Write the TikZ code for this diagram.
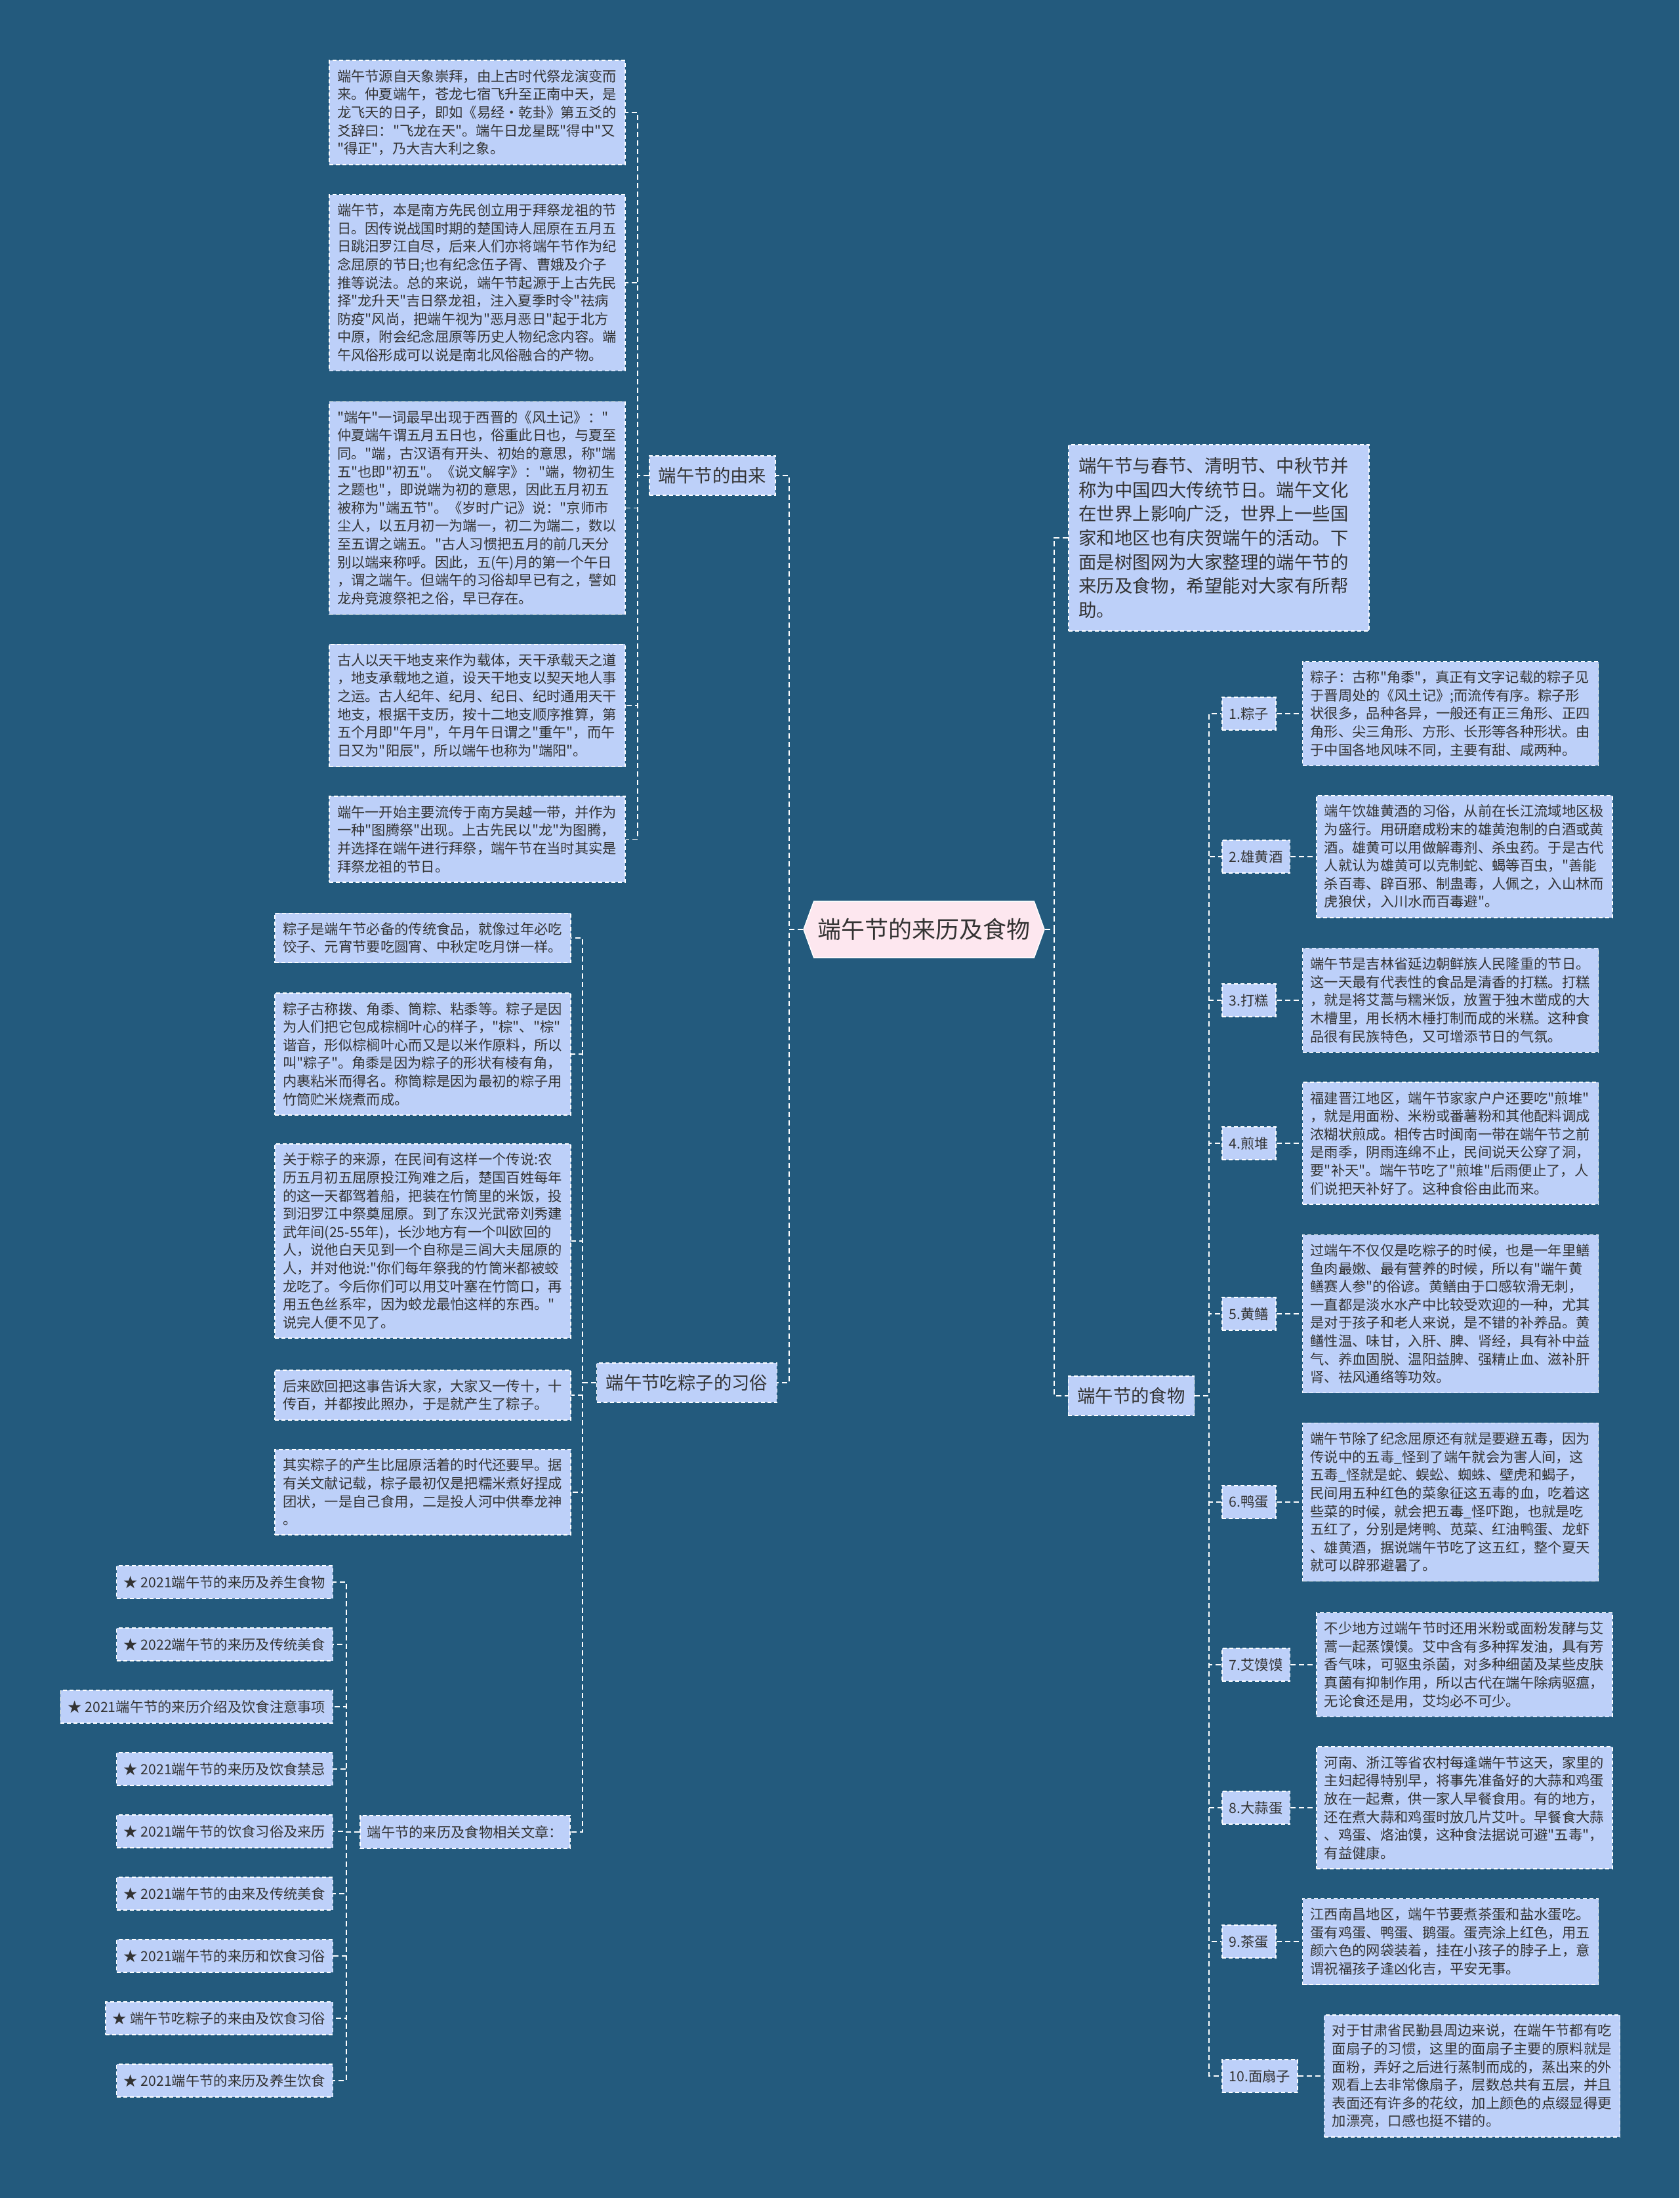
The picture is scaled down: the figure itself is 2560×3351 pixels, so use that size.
\documentclass[tikz,border=0pt]{standalone}
\usepackage{fontspec}
\setmainfont{Noto Sans CJK SC}[Ligatures=TeXOff]
\usetikzlibrary{positioning,shapes.symbols}
\setlength{\parindent}{0pt}

\definecolor{bgblue}{HTML}{235A7D}
\definecolor{boxfill}{HTML}{BDD0F9}
\definecolor{inkgray}{HTML}{333333}
\definecolor{rootpink}{HTML}{FDE7EF}

\tikzset{
  link/.style={draw=white, line width=1.8pt, dash pattern=on 8pt off 5pt},
  boxline/.style={draw=white, line width=1.5pt, dash pattern=on 6pt off 4pt, fill=boxfill, text=inkgray},
  textbox/.style={boxline, align=left, text width=427pt, inner xsep=12pt, inner ysep=14pt,
    font=\fontsize{21.3pt}{27.6pt}\selectfont},
  tagbox/.style={boxline, minimum height=50pt, inner xsep=11pt, inner ysep=4pt,
    font=\fontsize{21.3pt}{25pt}\selectfont},
  branchbox/.style={boxline, minimum height=60pt, inner xsep=14pt, inner ysep=4pt,
    font=\fontsize{27.4pt}{33pt}\selectfont},
  rootbox/.style={shape=signal, signal to=east and west, signal pointer angle=140,
    draw=white, line width=1.5pt, fill=rootpink, text=inkgray,
    minimum width=367pt, minimum height=86pt, font=\fontsize{36pt}{40pt}\selectfont}
}

\begin{document}
\begin{tikzpicture}[x=1pt,y=-1pt]
\fill[bgblue] (0,0) rectangle (2560,3351);
\useasboundingbox (0,0) rectangle (2560,3351);

% centre and main branches
\node[rootbox] (root) at (1408.5,1417) {端午节的来历及食物};
\node[branchbox] (b1) at (1086,725) {端午节的由来};
\node[branchbox] (b2) at (1047,2108) {端午节吃粽子的习俗};
\node[branchbox] (b4) at (1724.5,2128) {端午节的食物};
\node[textbox, text width=427pt, inner xsep=15.5pt, inner ysep=19pt,
  font=\fontsize{27.4pt}{36.7pt}\selectfont] (intro) at (1858,820)
  {端午节与春节、清明节、中秋节并\\称为中国四大传统节日。端午文化\\在世界上影响广泛，世界上一些国\\家和地区也有庆贺端午的活动。下\\面是树图网为大家整理的端午节的\\来历及食物，希望能对大家有所帮\\助。};

\coordinate (busL) at (1203,0);
\coordinate (busR) at (1607,0);
\coordinate (bus1) at (972,0);
\coordinate (bus2) at (888,0);
\coordinate (bus4) at (1843,0);
\coordinate (busA) at (528,0);

% origin texts
\node[textbox] (o1) at (727.5,171.5)
  {端午节源自天象崇拜，由上古时代祭龙演变而\\来。仲夏端午，苍龙七宿飞升至正南中天，是\\龙飞天的日子，即如《易经·乾卦》第五爻的\\爻辞曰："飞龙在天"。端午日龙星既"得中"又\\"得正"，乃大吉大利之象。};
\node[textbox] (o2) at (727.5,431)
  {端午节，本是南方先民创立用于拜祭龙祖的节\\日。因传说战国时期的楚国诗人屈原在五月五\\日跳汨罗江自尽，后来人们亦将端午节作为纪\\念屈原的节日;也有纪念伍子胥、曹娥及介子\\推等说法。总的来说，端午节起源于上古先民\\择"龙升天"吉日祭龙祖，注入夏季时令"祛病\\防疫"风尚，把端午视为"恶月恶日"起于北方\\中原，附会纪念屈原等历史人物纪念内容。端\\午风俗形成可以说是南北风俗融合的产物。};
\node[textbox] (o3) at (727.5,774.5)
  {"端午"一词最早出现于西晋的《风土记》："\\仲夏端午谓五月五日也，俗重此日也，与夏至\\同。"端，古汉语有开头、初始的意思，称"端\\五"也即"初五"。《说文解字》："端，物初生\\之题也"，即说端为初的意思，因此五月初五\\被称为"端五节"。《岁时广记》说："京师市\\尘人，以五月初一为端一，初二为端二，数以\\至五谓之端五。"古人习惯把五月的前几天分\\别以端来称呼。因此，五(午)月的第一个午日\\，谓之端午。但端午的习俗却早已有之，譬如\\龙舟竞渡祭祀之俗，早已存在。};
\node[textbox] (o4) at (727.5,1075.5)
  {古人以天干地支来作为载体，天干承载天之道\\，地支承载地之道，设天干地支以契天地人事\\之运。古人纪年、纪月、纪日、纪时通用天干\\地支，根据干支历，按十二地支顺序推算，第\\五个月即"午月"，午月午日谓之"重午"，而午\\日又为"阳辰"，所以端午也称为"端阳"。};
\node[textbox] (o5) at (727.5,1279.5)
  {端午一开始主要流传于南方吴越一带，并作为\\一种"图腾祭"出现。上古先民以"龙"为图腾，\\并选择在端午进行拜祭，端午节在当时其实是\\拜祭龙祖的节日。};

% zongzi texts
\node[textbox] (z1) at (644.5,1430)
  {粽子是端午节必备的传统食品，就像过年必吃\\饺子、元宵节要吃圆宵、中秋定吃月饼一样。};
\node[textbox] (z2) at (644.5,1607)
  {粽子古称拨、角黍、筒粽、粘黍等。粽子是因\\为人们把它包成棕榈叶心的样子，"棕"、"棕"\\谐音，形似棕榈叶心而又是以米作原料，所以\\叫"粽子"。角黍是因为粽子的形状有棱有角，\\内裹粘米而得名。称筒粽是因为最初的粽子用\\竹筒贮米烧煮而成。};
\node[textbox] (z3) at (644.5,1892)
  {关于粽子的来源，在民间有这样一个传说:农\\历五月初五屈原投江殉难之后，楚国百姓每年\\的这一天都驾着船，把装在竹筒里的米饭，投\\到汨罗江中祭奠屈原。到了东汉光武帝刘秀建\\武年间(25-55年)，长沙地方有一个叫欧回的\\人，说他白天见到一个自称是三闾大夫屈原的\\人，并对他说:"你们每年祭我的竹筒米都被蛟\\龙吃了。今后你们可以用艾叶塞在竹筒口，再\\用五色丝系牢，因为蛟龙最怕这样的东西。"\\说完人便不见了。};
\node[textbox] (z4) at (644.5,2127)
  {后来欧回把这事告诉大家，大家又一传十，十\\传百，并都按此照办，于是就产生了粽子。};
\node[textbox] (z5) at (644.5,2275)
  {其实粽子的产生比屈原活着的时代还要早。据\\有关文献记载，棕子最初仅是把糯米煮好捏成\\团状，一是自己食用，二是投人河中供奉龙神\\。};

% related articles
\node[tagbox, anchor=west] (hub) at (548,2793) {端午节的来历及食物相关文章：};
\foreach \t [count=\i] in {2021端午节的来历及养生食物, 2022端午节的来历及传统美食,
  2021端午节的来历介绍及饮食注意事项, 2021端午节的来历及饮食禁忌,
  2021端午节的饮食习俗及来历, 2021端午节的由来及传统美食,
  2021端午节的来历和饮食习俗, 端午节吃粽子的来由及饮食习俗,
  2021端午节的来历及养生饮食}
  \node[tagbox, anchor=east] (a\i) at (508,{2412+95*(\i-1)}) {★ \t};

% foods
\node[tagbox, anchor=west] (f1) at (1862,1088) {1.粽子};
\node[tagbox, anchor=west] (f2) at (1862,1306) {2.雄黄酒};
\node[tagbox, anchor=west] (f3) at (1862,1525) {3.打糕};
\node[tagbox, anchor=west] (f4) at (1862,1743) {4.煎堆};
\node[tagbox, anchor=west] (f5) at (1862,2003) {5.黄鳝};
\node[tagbox, anchor=west] (f6) at (1862,2290) {6.鸭蛋};
\node[tagbox, anchor=west] (f7) at (1862,2538) {7.艾馍馍};
\node[tagbox, anchor=west] (f8) at (1862,2756) {8.大蒜蛋};
\node[tagbox, anchor=west] (f9) at (1862,2960) {9.茶蛋};
\node[tagbox, anchor=west] (f10) at (1862,3165) {10.面扇子};

\node[textbox, right=39pt of f1] (t1)
  {粽子：古称"角黍"，真正有文字记载的粽子见\\于晋周处的《风土记》;而流传有序。粽子形\\状很多，品种各异，一般还有正三角形、正四\\角形、尖三角形、方形、长形等各种形状。由\\于中国各地风味不同，主要有甜、咸两种。};
\node[textbox, right=39pt of f2] (t2)
  {端午饮雄黄酒的习俗，从前在长江流域地区极\\为盛行。用研磨成粉末的雄黄泡制的白酒或黄\\酒。雄黄可以用做解毒剂、杀虫药。于是古代\\人就认为雄黄可以克制蛇、蝎等百虫，"善能\\杀百毒、辟百邪、制蛊毒，人佩之，入山林而\\虎狼伏，入川水而百毒避"。};
\node[textbox, right=39pt of f3] (t3)
  {端午节是吉林省延边朝鲜族人民隆重的节日。\\这一天最有代表性的食品是清香的打糕。打糕\\，就是将艾蒿与糯米饭，放置于独木凿成的大\\木槽里，用长柄木棰打制而成的米糕。这种食\\品很有民族特色，又可增添节日的气氛。};
\node[textbox, right=39pt of f4] (t4)
  {福建晋江地区，端午节家家户户还要吃"煎堆"\\，就是用面粉、米粉或番薯粉和其他配料调成\\浓糊状煎成。相传古时闽南一带在端午节之前\\是雨季，阴雨连绵不止，民间说天公穿了洞，\\要"补天"。端午节吃了"煎堆"后雨便止了，人\\们说把天补好了。这种食俗由此而来。};
\node[textbox, right=39pt of f5] (t5)
  {过端午不仅仅是吃粽子的时候，也是一年里鳝\\鱼肉最嫩、最有营养的时候，所以有"端午黄\\鳝赛人参"的俗谚。黄鳝由于口感软滑无刺，\\一直都是淡水水产中比较受欢迎的一种，尤其\\是对于孩子和老人来说，是不错的补养品。黄\\鳝性温、味甘，入肝、脾、肾经，具有补中益\\气、养血固脱、温阳益脾、强精止血、滋补肝\\肾、祛风通络等功效。};
\node[textbox, right=39pt of f6] (t6)
  {端午节除了纪念屈原还有就是要避五毒，因为\\传说中的五毒\_怪到了端午就会为害人间，这\\五毒\_怪就是蛇、蜈蚣、蜘蛛、壁虎和蝎子，\\民间用五种红色的菜象征这五毒的血，吃着这\\些菜的时候，就会把五毒\_怪吓跑，也就是吃\\五红了，分别是烤鸭、苋菜、红油鸭蛋、龙虾\\、雄黄酒，据说端午节吃了这五红，整个夏天\\就可以辟邪避暑了。};
\node[textbox, right=39pt of f7] (t7)
  {不少地方过端午节时还用米粉或面粉发酵与艾\\蒿一起蒸馍馍。艾中含有多种挥发油，具有芳\\香气味，可驱虫杀菌，对多种细菌及某些皮肤\\真菌有抑制作用，所以古代在端午除病驱瘟，\\无论食还是用，艾均必不可少。};
\node[textbox, right=39pt of f8] (t8)
  {河南、浙江等省农村每逢端午节这天，家里的\\主妇起得特别早，将事先准备好的大蒜和鸡蛋\\放在一起煮，供一家人早餐食用。有的地方，\\还在煮大蒜和鸡蛋时放几片艾叶。早餐食大蒜\\、鸡蛋、烙油馍，这种食法据说可避"五毒"，\\有益健康。};
\node[textbox, right=39pt of f9] (t9)
  {江西南昌地区，端午节要煮茶蛋和盐水蛋吃。\\蛋有鸡蛋、鸭蛋、鹅蛋。蛋壳涂上红色，用五\\颜六色的网袋装着，挂在小孩子的脖子上，意\\谓祝福孩子逢凶化吉，平安无事。};
\node[textbox, right=39pt of f10] (t10)
  {对于甘肃省民勤县周边来说，在端午节都有吃\\面扇子的习惯，这里的面扇子主要的原料就是\\面粉，弄好之后进行蒸制而成的，蒸出来的外\\观看上去非常像扇子，层数总共有五层，并且\\表面还有许多的花纹，加上颜色的点缀显得更\\加漂亮，口感也挺不错的。};

% connectors
\draw[link] (root.west) -- (root.west -| busL) |- (b1.east);
\draw[link] (root.west) -- (root.west -| busL) |- (b2.east);
\draw[link] (root.east) -- (root.east -| busR) |- (intro.west);
\draw[link] (root.east) -- (root.east -| busR) |- (b4.west);
\foreach \k in {1,...,5}
  \draw[link] (b1.west) -- (b1.west -| bus1) |- (o\k.east);
\foreach \k in {1,...,5}
  \draw[link] (b2.west) -- (b2.west -| bus2) |- (z\k.east);
\draw[link] (b2.west) -- (b2.west -| bus2) |- (hub.east);
\foreach \k in {1,...,9}
  \draw[link] (hub.west) -- (hub.west -| busA) |- (a\k.east);
\foreach \k in {1,...,10} {
  \draw[link] (b4.east) -- (b4.east -| bus4) |- (f\k.west);
  \draw[link] (f\k.east) -- (t\k.west);
}
\end{tikzpicture}
\end{document}
